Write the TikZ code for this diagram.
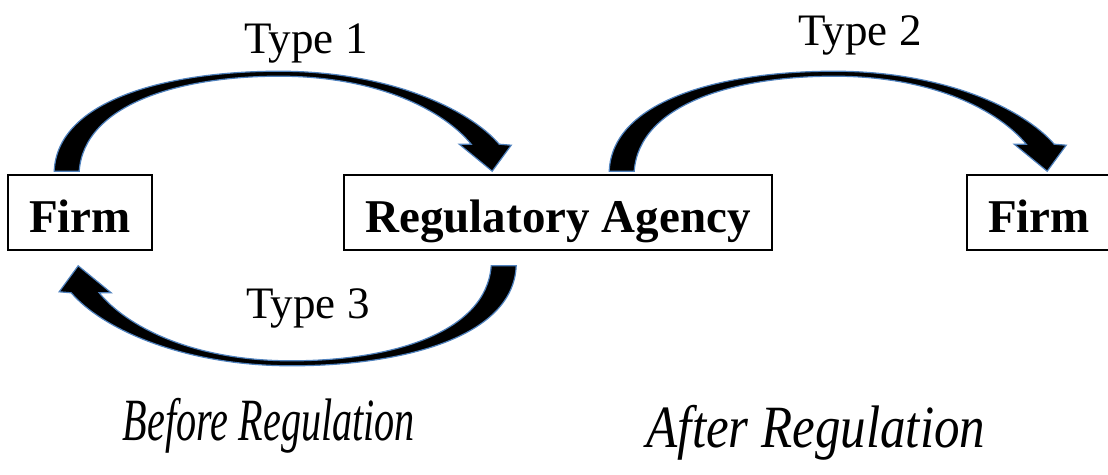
\documentclass[tikz,border=0pt]{standalone}
\usepackage{fontspec}
\setmainfont{Liberation Serif}
\usetikzlibrary{positioning,calc}

\definecolor{arrowedge}{RGB}{79,129,189}

\tikzset{
  party/.style={draw, line width=1.6pt, inner sep=0pt, minimum height=75pt,
    text height=40pt, text depth=0pt, font=\fontsize{47}{56}\selectfont\bfseries},
  typelabel/.style={inner sep=0pt, anchor=base, font=\fontsize{45}{54}\selectfont},
  phase/.style={inner sep=0pt, anchor=base, font=\fontsize{60}{70}\selectfont\itshape},
  bendarrow/.pic={
    \filldraw[fill=black, draw=arrowedge, line width=1.2pt]
      (0,0) .. controls (3,-72) and (115,-100) .. (225,-100)
      .. controls (335,-100) and (415,-62) .. (445,-27)
      -- (457,-26) -- (438,0) -- (405,-27) -- (417,-27)
      .. controls (390,-60) and (325,-95) .. (225,-95)
      .. controls (125,-95) and (30,-67) .. (25,0) -- cycle;
  }
}

\begin{document}
\begin{tikzpicture}[x=1pt, y=-1pt]
    \clip (0,0) rectangle (1108,474);

    % the three parties
    \node[party, minimum width=144pt] (firmA) at (80,212.5) {Firm};
    \node[party, minimum width=428pt] (agency) at (558,212.5) {Regulatory Agency};
    \node[party, minimum width=144pt] (firmB) at (1039,212.5) {Firm};

    % curved arrows
    % Firm to agency
    \pic at ($(firmA.north west)+(47,-3)$) {bendarrow};
    % agency to new firm
    \pic at ($(agency.north west)+(266,-3)$) {bendarrow};
    % agency back to firm
    \pic[rotate=180] at ($(agency.south west)+(173,15)$) {bendarrow};

    \node[typelabel] (type1) at (306,53) {Type 1};
    \node[typelabel] (type2) at (860,45) {Type 2};
    \node[typelabel] (type3) at (308,318) {Type 3};

    \node[phase, xscale=0.67] (before) at (269,440) {Before Regulation};
    \node[phase, xscale=0.85] (after) at (816,447) {After Regulation};
\end{tikzpicture}
\end{document}
